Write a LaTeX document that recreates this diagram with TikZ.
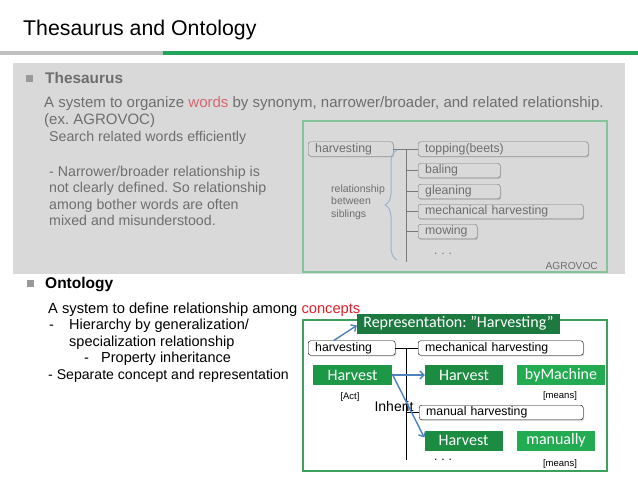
\documentclass[tikz,border=0pt]{standalone}
\usepackage{fontspec}
\setmainfont{Liberation Sans}
\newfontfamily\calibri{Carlito}
\usetikzlibrary{positioning,arrows.meta,shadows,decorations.pathreplacing}
\frenchspacing

\definecolor{slidegray}{HTML}{D9D9D9}
\definecolor{rulegray}{HTML}{BFBFBF}
\definecolor{rulegreen}{HTML}{22A55B}
\definecolor{textgray}{HTML}{6E6E6E}
\definecolor{boxgray}{HTML}{7A7A7A}
\definecolor{wordred}{HTML}{D9666E}
\definecolor{conceptred}{HTML}{E0202A}
\definecolor{framegreen}{HTML}{86C29A}
\definecolor{ontogreen}{HTML}{3C9F5C}
\definecolor{reprgreen}{HTML}{1C7A40}
\definecolor{actgreen}{HTML}{1D9847}
\definecolor{meansgreen}{HTML}{22AB50}
\definecolor{bracelblue}{HTML}{9DB4CE}
\definecolor{arrowblue}{HTML}{4F81BD}

\tikzset{
  txt/.style={anchor=base west,inner sep=0pt},
  termbox/.style={rounded corners=2.5pt,inner xsep=7pt,inner ysep=0pt,
    minimum height=14.5pt,anchor=west,text height=8.8pt,text depth=2.6pt,
    align=left,font=\fontsize{12.3}{14}\selectfont,
    drop shadow={shadow xshift=1pt,shadow yshift=-1.2pt,opacity=0.35}},
  thesbox/.style={termbox,draw=boxgray,fill=slidegray,text=textgray},
  ontobox/.style={termbox,draw=black,fill=white},
  concept/.style={fill=#1,text=white,inner sep=0pt,minimum height=20pt,
    font=\calibri\fontsize{16}{18}\selectfont},
  inherit/.style={draw=arrowblue,line width=1.4pt,-{Straight Barb[length=4pt,width=8pt]}}
}

\begin{document}
\begin{tikzpicture}[x=1pt,y=-1pt]
\useasboundingbox (0,0) rectangle (638,479);
% title and rule
\node[txt,font=\fontsize{21.3}{24}\selectfont] (title) at (23,35) {Thesaurus and Ontology};
\draw[rulegray,line width=4pt] (0,52.5) -- (163,52.5);
\draw[rulegreen,line width=4pt] (163,52.5) -- (638,52.5);

% thesaurus panel
\fill[slidegray] (12.5,63) rectangle (625,274);
\fill[rulegray!80!black] (26,74.5) rectangle (33,81.5);
\node[txt,text=textgray,font=\bfseries\fontsize{15.4}{18}\selectfont] (thes) at (45,83) {Thesaurus};
\node[txt,text=textgray,font=\fontsize{15}{17}\selectfont] (thdef) at (44,107)
  {A system to organize \textcolor{wordred}{words} by synonym, narrower/broader, and related relationship.};
\node[txt,text=textgray,font=\fontsize{15}{17}\selectfont] (thex) at (44,124) {(ex. AGROVOC)};
\node[txt,text=textgray,font=\fontsize{14.2}{16}\selectfont] (thuse) at (49,141) {Search related words efficiently};
\node[txt,text=textgray,font=\fontsize{14.2}{16}\selectfont] (thn1) at (49,176) {- Narrower/broader relationship is};
\node[txt,text=textgray,font=\fontsize{14.2}{16}\selectfont] (thn2) at (49,192.5) {not clearly defined. So relationship};
\node[txt,text=textgray,font=\fontsize{14.2}{16}\selectfont] (thn3) at (49,209) {among bother words are often};
\node[txt,text=textgray,font=\fontsize{14.2}{16}\selectfont] (thn4) at (49,225.5) {mixed and misunderstood.};

% AGROVOC example
\draw[framegreen,line width=1.3pt,drop shadow={shadow xshift=1pt,shadow yshift=-1pt,opacity=0.3},fill=slidegray] (303,121) rectangle (607,272);
\node[thesbox,text width=71pt] (thv) at (308,149) {harvesting};
\node[thesbox,text width=156pt] (ttop) at (418,149) {topping(beets)};
\node[thesbox,text width=68pt] (tbal) at (418,170.5) {baling};
\node[thesbox,text width=68pt] (tgle) at (418,191.5) {gleaning};
\node[thesbox,text width=151pt] (tmec) at (418,211.5) {mechanical harvesting};
\node[thesbox,text width=45pt] (tmow) at (418,231.5) {mowing};
\coordinate (tjoin) at (406,149);
\coordinate (tend) at (406,262);
\draw[boxgray,line width=0.9pt] (thv.east) -- (tjoin) -- (tend);
\foreach \n in {ttop,tbal,tgle,tmec,tmow}
  \draw[boxgray,line width=0.9pt] (tjoin |- \n.west) -- (\n.west);
\coordinate (bracebot) at (397,260);
\coordinate (bracetop) at (397,150);
\draw[bracelblue,line width=1pt,decorate,decoration={brace,amplitude=12pt}] (bracebot) -- (bracetop);
\node[txt,text=textgray,font=\fontsize{10.5}{12}\selectfont] (sib1) at (331,192) {relationship};
\node[txt,text=textgray,font=\fontsize{10.5}{12}\selectfont] (sib2) at (331,204.5) {between};
\node[txt,text=textgray,font=\fontsize{10.5}{12}\selectfont] (sib3) at (331,217) {siblings};
\node[text=textgray,font=\fontsize{12}{14}\selectfont,inner sep=0pt] (tdots) at (443,254) {.\,\,.\,\,.};
\node[anchor=base east,inner sep=0pt,text=textgray,font=\fontsize{10.2}{12}\selectfont] (agrovoc) at (598,269) {AGROVOC};

% ontology text
\fill[rulegray!80!black] (26.5,279.5) rectangle (33.5,286.5);
\node[txt,font=\bfseries\fontsize{15.5}{18}\selectfont] (onto) at (45,288.5) {Ontology};
\node[txt,font=\fontsize{14.7}{16}\selectfont] (ondef) at (48,313)
  {A system to define relationship among \textcolor{conceptred}{concepts}};
\node[txt,font=\fontsize{14.5}{16}\selectfont] (ond1) at (49,329.5) {-};
\node[txt,font=\fontsize{14.5}{16}\selectfont] (onh1) at (69,329.5) {Hierarchy by generalization/};
\node[txt,font=\fontsize{14.5}{16}\selectfont] (onh2) at (69,346) {specialization relationship};
\node[txt,font=\fontsize{14.5}{16}\selectfont] (ond2) at (84,362.5) {-};
\node[txt,font=\fontsize{14.5}{16}\selectfont] (onp) at (101,362.5) {Property inheritance};
\node[txt,font=\fontsize{14.1}{16}\selectfont] (ons) at (48,379) {- Separate concept and representation};

% ontology example
\draw[ontogreen,line width=1.4pt,fill=white,drop shadow={shadow xshift=1pt,shadow yshift=-1pt,opacity=0.3}] (303,320) rectangle (607,471);
\node[concept=reprgreen,minimum width=203pt] (repr) at (458.5,323.5) {Representation: ”Harvesting”};
\node[ontobox,text width=73pt] (ohv) at (308,348) {harvesting};
\node[ontobox,text width=151pt] (omec) at (418,348) {mechanical harvesting};
\node[ontobox,text width=150pt] (oman) at (419,412.5) {manual harvesting};
\coordinate (ojoin) at (406,348);
\coordinate (oend) at (406,460);
\draw[line width=0.9pt] (ohv.east) -- (ojoin) -- (oend);
\draw[line width=0.9pt] (ojoin) -- (omec.west);
\draw[line width=0.9pt] (ojoin |- oman.west) -- (oman.west);
\node[concept=actgreen,minimum width=79pt] (hv) at (352.5,375) {Harvest};
\node[concept=actgreen!92!black,minimum width=78pt] (mh) at (464,375) {Harvest};
\node[concept=meansgreen,minimum width=88pt] (bym) at (561,375) {byMachine};
\node[concept=actgreen!92!black,minimum width=78pt] (lh) at (463.5,440.5) {Harvest};
\node[concept=meansgreen,minimum width=78pt] (man) at (556,440.5) {manually};
\node[inner sep=0pt,font=\fontsize{9.5}{11}\selectfont] (act) at (350,397) {[Act]};
\node[inner sep=0pt,font=\fontsize{9.5}{11}\selectfont] (means1) at (560,396) {[means]};
\node[inner sep=0pt,font=\fontsize{9.5}{11}\selectfont] (means2) at (560,464) {[means]};
\node[inner sep=0pt,font=\fontsize{14}{16}\selectfont] (inh) at (394,406) {Inherit};
\node[inner sep=0pt,font=\fontsize{12}{14}\selectfont] (odots) at (443,460) {.\,\,.\,\,.};
\draw[inherit] ([xshift=-18pt]ohv.north) -- ([yshift=-2pt]repr.west);
\draw[inherit] (hv.east) -- (mh.west);
\draw[inherit] ([yshift=1pt]hv.east) -- ([yshift=3pt]lh.west);
\end{tikzpicture}
\end{document}
